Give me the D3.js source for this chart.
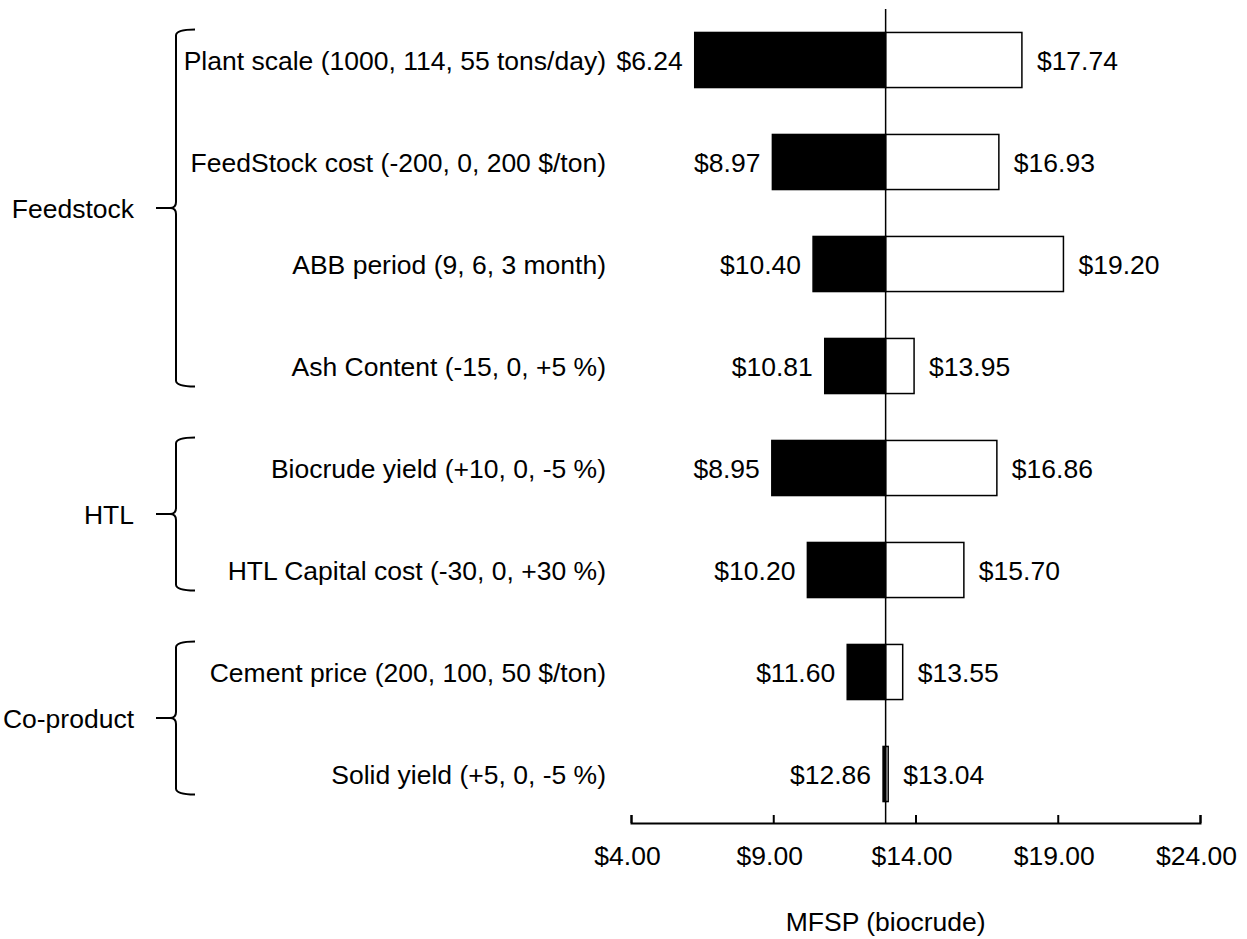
<!DOCTYPE html>
<html><head><meta charset="utf-8">
<script src="https://cdn.jsdelivr.net/npm/d3@7"></script>
<style>body{margin:0;background:#fff}text{font-family:"Liberation Sans",Arial,sans-serif;fill:#000}</style>
</head><body>
<svg id="c" width="1247" height="939"></svg>
<script>
const categories = ["Plant scale (1000, 114, 55 tons/day)","FeedStock cost (-200, 0, 200 $/ton)","ABB period (9, 6, 3 month)","Ash Content (-15, 0, +5 %)","Biocrude yield (+10, 0, -5 %)","HTL Capital cost (-30, 0, +30 %)","Cement price (200, 100, 50 $/ton)","Solid yield (+5, 0, -5 %)"];
const lowValues = [6.24, 8.97, 10.40, 10.81, 8.95, 10.20, 11.60, 12.86];
const highValues = [17.74, 16.93, 19.20, 13.95, 16.86, 15.70, 13.55, 13.04];
const baseValue = 12.95;
const tickValues = [4, 9, 14, 19, 24];
const groupNames = ["Feedstock", "HTL", "Co-product"];
const groupFirst = [0, 4, 6];
const groupLast = [3, 5, 7];
const axisTitle = "MFSP (biocrude)";

const svg = d3.select("#c");
const fs = 26.5;
const axisY = 823;
const x = d3.scaleLinear().domain([4, 24]).range([631, 1200]);
const y = d3.scaleBand().domain(categories).range([9, 825]).paddingInner(0.46).paddingOuter(0.23);
const fmt = v => "$" + v.toFixed(2);
const cy = c => y(c) + y.bandwidth() / 2;

const rows = categories.map((c, i) => ({c, lo: lowValues[i], hi: highValues[i]}));
svg.selectAll("rect.lo").data(rows).join("rect")
  .attr("x", d => x(d.lo)).attr("y", d => y(d.c))
  .attr("width", d => x(baseValue) - x(d.lo)).attr("height", y.bandwidth())
  .attr("fill", "#000").attr("stroke", "#000").attr("stroke-width", 1.5);
svg.selectAll("rect.hi").data(rows).join("rect")
  .attr("x", d => x(baseValue)).attr("y", d => y(d.c))
  .attr("width", d => x(d.hi) - x(baseValue)).attr("height", y.bandwidth())
  .attr("fill", "#fff").attr("stroke", "#000").attr("stroke-width", 1.5);

svg.append("line").attr("x1", x(baseValue)).attr("x2", x(baseValue))
  .attr("y1", 9).attr("y2", axisY).attr("stroke", "#000").attr("stroke-width", 1.5);

svg.selectAll("text.lo").data(rows).join("text")
  .attr("x", d => x(d.lo) - 12).attr("y", d => cy(d.c))
  .attr("dy", "0.38em").attr("text-anchor", "end").attr("font-size", fs).text(d => fmt(d.lo));
svg.selectAll("text.hi").data(rows).join("text")
  .attr("x", d => x(d.hi) + 15).attr("y", d => cy(d.c))
  .attr("dy", "0.38em").attr("text-anchor", "start").attr("font-size", fs).text(d => fmt(d.hi));

svg.selectAll("text.cat").data(rows).join("text")
  .attr("x", 606).attr("y", d => cy(d.c))
  .attr("dy", "0.38em").attr("text-anchor", "end").attr("font-size", fs).text(d => d.c);

const ax = svg.append("g").attr("transform", `translate(0,${axisY})`)
  .call(d3.axisBottom(x).tickValues(tickValues).tickFormat(fmt).tickSizeInner(-8).tickSizeOuter(-8).tickPadding(23));
ax.selectAll("path,line").attr("stroke", "#000").attr("stroke-width", 2);
ax.selectAll("text").attr("font-size", fs).attr("dx", -4).attr("font-family", '"Liberation Sans",Arial,sans-serif').attr("fill", "#000");

svg.append("text").attr("x", x(baseValue)).attr("y", 931).attr("text-anchor", "middle")
  .attr("font-size", fs).text(axisTitle);

const step = y.step();
groupNames.forEach((g, i) => {
  const n = groupLast[i] - groupFirst[i] + 1;
  const mid = (cy(categories[groupFirst[i]]) + cy(categories[groupLast[i]])) / 2 - 5;
  const half = (n - 0.5) * step / 2;
  const top = mid - half, bot = mid + half;
  const xv = 176, r = 6, xr = 195, xt = 156;
  const p = `M${xr},${top} Q${xv},${top} ${xv},${top + r} L${xv},${mid - r} Q${xv},${mid} ${xv - r},${mid} L${xt},${mid} M${xv - r},${mid} Q${xv},${mid} ${xv},${mid + r} L${xv},${bot - r} Q${xv},${bot} ${xr},${bot}`;
  svg.append("path").attr("d", p).attr("fill", "none").attr("stroke", "#000").attr("stroke-width", 2);
  svg.append("text").attr("x", xt - 22).attr("y", mid).attr("dy", "0.38em")
    .attr("text-anchor", "end").attr("font-size", fs).text(g);
});
</script>
</body></html>
